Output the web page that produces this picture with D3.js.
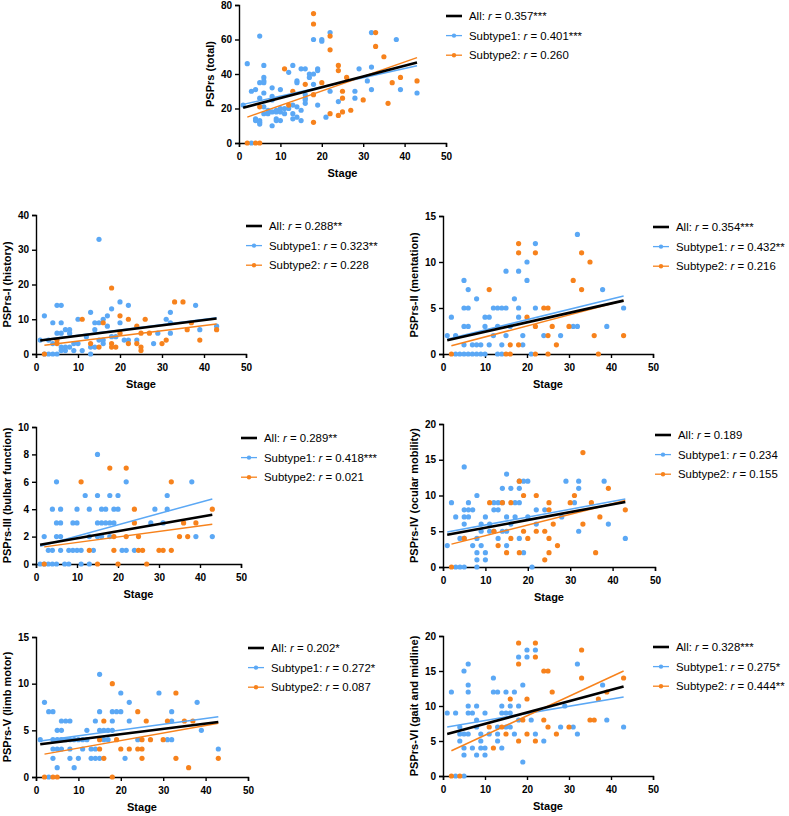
<!DOCTYPE html>
<html>
<head>
<meta charset="utf-8">
<script src="https://cdn.jsdelivr.net/npm/d3@7"></script>
<style>
  body { margin: 0; background: #fff; }
  svg { display: block; font-family: 'Liberation Sans', Arial, sans-serif; }
</style>
</head>
<body>
<div id="chart"></div>
<script>
// Axis / label data
var stageTicks = [0, 10, 20, 30, 40, 50]
var scoreNames = ['PSPrs (total)', 'PSPrs-I (history)', 'PSPrs-II (mentation)', 'PSPrs-III (bulbar function)',
                  'PSPrs-IV (ocular mobility)', 'PSPrs-V (limb motor)', 'PSPrs-VI (gait and midline)']
var scoreMax = [80, 40, 15, 10, 20, 15, 20]
var scoreStep = [20, 10, 5, 2, 5, 5, 5]

// correlation labels
var rAll = ['0.357***', '0.288**', '0.354***', '0.289**', '0.189', '0.202*', '0.328***']
var rSub1 = ['0.401***', '0.323**', '0.432**', '0.418***', '0.234', '0.272*', '0.275*']
var rSub2 = ['0.260', '0.228', '0.216', '0.021', '0.155', '0.087', '0.444**']

// [stage, score] per patient
var totalSub1 = [[1,22],[2,46],[3,30],[4,31],[4,14],[4,13],[5,13],[5,12],[5,11],[5,62],[5,35],[5,26],[6,45],[6,38],
  [6,36],[6,35],[6,29],[6,21],[6,17],[7,17],[7,19],[8,32],[8,27],[8,25],[8,10],[8,18],[9,18],[10,18],[9,19],[9,14],
  [9,13],[10,13],[10,31],[10,20],[11,20],[11,17],[12,41],[12,20],[13,45],[13,22],[13,17],[13,14],[14,36],[14,35],
  [14,21],[14,15],[15,43],[16,43],[15,19],[15,13],[16,28],[16,26],[16,23],[16,25],[17,40],[17,38],[18,40],[18,60],
  [18,34],[19,43],[19,42],[19,22],[20,60],[20,59],[21,15],[22,64],[22,30],[24,24],[29,43],[28,30],[28,26],[31,36],
  [32,64],[32,44],[32,31],[38,60],[39,31],[43,29],[3,0]]
var totalSub2 = [[18,75],[18,69],[22,62],[22,54],[33,64],[33,56],[35,50],[24,45],[24,42],[11,43],[26,38],[20,35],
  [16,34],[37,35],[39,38],[43,36],[25,30],[25,26],[30,25],[36,23],[27,19],[25,18],[22,17],[24,16],[18,12],[18,28],
  [5,21],[12,22],[13,30],[2,0],[4,0],[5,0]]

var historySub1 = [[1,4],[2,11],[3,4],[4,9],[5,14],[6,14],[5,6],[6,6],[6,9],[7,7],[8,6],[8,7],[7,2],[8,2],[9,3],
  [10,3],[10,10],[11,1],[12,5],[13,12],[13,2],[14,2],[14,7],[14,9],[15,9],[15,33],[15,4],[16,4],[16,3],[16,10],
  [17,11],[17,8],[18,13],[18,5],[19,5],[20,15],[20,9],[21,4],[22,4],[22,14],[24,4],[28,3],[29,6],[31,10],[32,12],
  [32,9],[32,6],[38,14],[39,7],[43,8],[2,0],[3,0],[4,0],[5,0],[13,0],[4,3],[6,2],[7,1],[9,1],[6,1]]
var historySub2 = [[2,0],[11,10],[13,3],[15,2],[16,9],[18,19],[18,3],[18,2],[19,2],[20,11],[20,6],[22,10],[22,3],
  [24,8],[24,3],[25,6],[25,2],[25,1],[26,10],[27,6],[30,3],[31,4],[33,15],[35,15],[36,7],[37,9],[39,4],[43,7],
  [5,3],[5,4]]

var mentationSub1 = [[1,2],[2,4],[3,2],[5,8],[6,7],[5,5],[6,5],[5,3],[6,3],[5,1],[7,1],[8,6],[8,1],[9,1],[10,4],
  [11,4],[10,3],[11,1],[12,5],[13,5],[14,5],[15,5],[12,2],[13,3],[14,1],[15,9],[15,2],[16,3],[17,6],[18,9],[18,4],
  [18,5],[19,2],[19,1],[20,10],[20,8],[22,12],[22,5],[24,2],[28,2],[32,13],[31,3],[32,3],[38,7],[39,3],[43,5],
  [3,0],[4,0],[5,0],[6,0],[7,0],[8,0],[9,0],[10,0],[13,0],[14,0],[21,0]]
var mentationSub2 = [[2,0],[11,7],[15,0],[16,0],[16,1],[18,12],[18,11],[18,1],[20,4],[22,11],[22,3],[22,0],[24,5],
  [25,5],[25,2],[25,0],[26,3],[27,1],[30,3],[31,8],[33,11],[33,7],[35,10],[36,2],[37,0],[43,2]]

var bulbarSub1 = [[1,0],[2,2],[3,1],[4,1],[4,4],[5,6],[5,3],[6,3],[5,2],[6,2],[6,4],[6,1],[8,1],[9,1],[10,1],
  [11,1],[9,3],[10,3],[10,4],[12,5],[13,4],[14,1],[15,8],[15,5],[15,3],[16,3],[17,3],[18,3],[19,3],[15,2],[16,2],
  [16,4],[17,4],[18,5],[19,4],[20,4],[20,5],[21,1],[22,1],[22,6],[24,1],[28,3],[29,4],[31,3],[32,4],[32,5],[38,6],
  [39,2],[43,2],[2,0],[3,0],[4,0],[5,0],[7,0],[8,0],[11,0],[13,0],[13,2],[18,2]]
var bulbarSub2 = [[2,0],[11,6],[13,1],[15,0],[18,7],[19,2],[19,1],[20,0],[22,7],[22,2],[24,4],[24,3],[25,2],[25,1],
  [26,1],[27,0],[30,1],[31,1],[33,6],[33,1],[35,2],[36,3],[37,2],[39,3],[43,4]]

var ocularSub1 = [[1,3],[2,9],[3,7],[4,4],[5,4],[5,14],[5,8],[6,8],[7,8],[5,7],[6,7],[5,6],[6,9],[7,3],[8,10],
  [8,4],[8,2],[8,1],[9,6],[9,5],[9,3],[10,7],[10,2],[10,1],[11,6],[11,5],[12,9],[13,9],[12,8],[13,8],[12,5],[13,4],
  [14,5],[14,11],[14,9],[15,13],[15,7],[15,5],[15,3],[16,11],[16,6],[17,9],[17,7],[18,12],[18,11],[18,9],[18,4],
  [19,12],[20,12],[19,2],[20,7],[21,0],[22,8],[22,6],[24,8],[28,7],[29,12],[31,9],[32,12],[32,11],[32,5],[38,12],
  [39,6],[43,4],[3,0],[4,0],[5,0],[8,0]]
var ocularSub2 = [[2,0],[5,4],[11,9],[12,5],[13,3],[14,9],[15,2],[16,9],[16,4],[18,12],[18,2],[19,10],[19,5],
  [20,4],[22,10],[22,5],[24,5],[24,1],[25,9],[25,8],[25,4],[25,2],[26,6],[27,3],[30,9],[31,10],[33,16],[33,6],
  [35,9],[37,7],[36,2],[39,11],[43,8]]

var limbSub1 = [[1,4],[2,8],[3,7],[4,7],[4,4],[4,3],[4,2],[5,5],[6,5],[5,4],[6,4],[5,3],[6,3],[5,1],[6,6],[7,6],
  [8,6],[7,4],[8,4],[9,4],[10,4],[11,4],[12,4],[8,3],[8,2],[9,1],[10,2],[11,3],[12,5],[13,2],[14,2],[15,2],[13,3],
  [14,3],[14,6],[15,11],[15,7],[15,5],[16,5],[17,5],[18,5],[16,4],[17,4],[18,7],[19,7],[20,7],[18,6],[20,9],[21,2],
  [22,8],[22,6],[24,4],[29,9],[31,4],[32,4],[32,7],[32,6],[38,8],[39,5],[43,3],[3,0]]
var limbSub2 = [[2,0],[4,0],[5,0],[15,3],[15,4],[16,6],[16,2],[18,10],[18,0],[19,4],[20,3],[22,3],[24,7],[24,3],
  [25,4],[25,3],[25,2],[26,6],[27,4],[30,4],[31,6],[33,9],[33,2],[35,6],[36,1],[37,6],[43,2]]

var gaitSub1 = [[1,9],[2,12],[3,9],[4,7],[4,5],[4,6],[5,6],[5,15],[5,4],[5,3],[6,16],[6,13],[6,12],[6,10],[6,9],
  [6,6],[7,9],[7,4],[8,10],[8,8],[8,7],[8,3],[9,6],[9,5],[9,4],[10,4],[10,9],[10,3],[11,6],[12,14],[12,12],[13,12],
  [13,7],[13,6],[13,5],[14,10],[14,9],[14,4],[15,12],[15,9],[15,7],[16,9],[16,10],[16,7],[17,12],[17,6],[18,17],
  [18,10],[18,8],[19,13],[19,2],[20,18],[20,17],[21,8],[22,18],[22,6],[24,5],[28,7],[29,10],[31,7],[32,16],[32,6],
  [38,13],[39,8],[43,7],[3,0],[5,0]]
var gaitSub2 = [[2,0],[4,0],[11,7],[12,4],[14,7],[15,6],[16,11],[18,19],[18,16],[18,5],[19,8],[20,11],[20,6],
  [22,19],[22,17],[22,5],[24,15],[25,15],[24,8],[25,7],[26,12],[27,6],[30,7],[33,18],[33,14],[35,8],[36,8],[37,11],
  [39,12],[43,14]]

// regression lines: [stage1, score1, stage2, score2]
var fitAll = [[1,20.5,43,46.6],[1,3.9,43,10.2],[1,1.5,43,5.8],[1,1.4,43,3.6],[1,4.5,43,9.1],[1,3.5,43,5.9],[1,6,43,12.8]]
var fitSub1 = [[1,22.4,43,44.8],[1,4.0,43,10.4],[1,1.6,43,6.3],[1,1.3,43,4.75],[1,4.9,43,9.5],[1,3.85,43,6.45],[1,7,43,11.3]]
var fitSub2 = [[2,15,43,49.5],[2,2.5,43,8.6],[2,0.9,43,5.8],[2,1.25,43,2.9],[2,3.2,43,9.3],[2,2.45,43,5.75],[2,3.6,43,15]]

var sub1Points = [totalSub1, historySub1, mentationSub1, bulbarSub1, ocularSub1, limbSub1, gaitSub1]
var sub2Points = [totalSub2, historySub2, mentationSub2, bulbarSub2, ocularSub2, limbSub2, gaitSub2]

var colors = { all: '#000000', sub1: '#5ba8f5', sub2: '#f7821c' }

// plot boxes (px)
var boxes = [
  { left: 239, right: 446, top: 5, bottom: 143 },
  { left: 36, right: 246, top: 215, bottom: 354 },
  { left: 443, right: 653, top: 216, bottom: 354 },
  { left: 36, right: 241, top: 427, bottom: 564 },
  { left: 443, right: 655, top: 424, bottom: 567 },
  { left: 36, right: 248, top: 637, bottom: 777 },
  { left: 443, right: 653, top: 636, bottom: 776 }
]

var svg = d3.select('#chart')
  .append('svg')
  .attr('width', 789)
  .attr('height', 816)

boxes.forEach(function (box, i) {
  var x = d3.scaleLinear().domain([0, 50]).range([box.left, box.right])
  var y = d3.scaleLinear().domain([0, scoreMax[i]]).range([box.bottom, box.top])
  var g = svg.append('g').attr('class', 'panel')

  // axes
  var xAxis = g.append('g')
    .attr('transform', 'translate(0,' + box.bottom + ')')
    .call(d3.axisBottom(x).tickValues(stageTicks).tickSize(4).tickPadding(6))
  var yAxis = g.append('g')
    .attr('transform', 'translate(' + box.left + ',0)')
    .call(d3.axisLeft(y).tickValues(d3.range(0, scoreMax[i] + 0.01, scoreStep[i])).tickSize(4).tickPadding(3))
  ;[xAxis, yAxis].forEach(function (a) {
    a.selectAll('path, line').attr('stroke', '#000').attr('stroke-width', 1.4)
    a.selectAll('text').attr('fill', '#000').style('font-size', '10px').style('font-weight', 'bold')
  })

  // points
  g.append('g').selectAll('circle.s1')
    .data(sub1Points[i]).enter()
    .append('circle')
    .attr('cx', function (d) { return x(d[0]) })
    .attr('cy', function (d) { return y(d[1]) })
    .attr('r', 2.6)
    .attr('fill', colors.sub1)
  g.append('g').selectAll('circle.s2')
    .data(sub2Points[i]).enter()
    .append('circle')
    .attr('cx', function (d) { return x(d[0]) })
    .attr('cy', function (d) { return y(d[1]) })
    .attr('r', 2.6)
    .attr('fill', colors.sub2)

  // fit lines
  var fits = [[fitSub1[i], colors.sub1, 1.5], [fitSub2[i], colors.sub2, 1.5], [fitAll[i], colors.all, 2.6]]
  fits.forEach(function (f) {
    g.append('line')
      .attr('x1', x(f[0][0])).attr('y1', y(f[0][1]))
      .attr('x2', x(f[0][2])).attr('y2', y(f[0][3]))
      .attr('stroke', f[1])
      .attr('stroke-width', f[2])
  })

  // axis titles
  g.append('text')
    .attr('x', (box.left + box.right) / 2)
    .attr('y', box.bottom + 34)
    .attr('text-anchor', 'middle')
    .style('font-size', '11px').style('font-weight', 'bold')
    .text('Stage')
  g.append('text')
    .attr('transform', 'translate(' + (box.left - 29) + ',' + ((box.top + box.bottom) / 2) + ') rotate(-90)')
    .attr('text-anchor', 'middle')
    .attr('dy', '0.35em')
    .style('font-size', '11px').style('font-weight', 'bold')
    .text(scoreNames[i])

  // legend
  var rows = [['All', rAll[i], colors.all], ['Subtype1', rSub1[i], colors.sub1], ['Subtype2', rSub2[i], colors.sub2]]
  var legend = g.append('g')
    .attr('transform', 'translate(' + box.right + ',' + (box.top + 11) + ')')
  rows.forEach(function (row, k) {
    var item = legend.append('g').attr('transform', 'translate(0,' + (k * 19.6) + ')')
    item.append('line')
      .attr('x1', 0).attr('x2', 16)
      .attr('stroke', row[2])
      .attr('stroke-width', k === 0 ? 2.6 : 1.3)
    if (k > 0) {
      item.append('circle').attr('cx', 8).attr('r', 2.2).attr('fill', row[2])
    }
    var t = item.append('text')
      .attr('x', 23)
      .attr('dy', '0.35em')
      .style('font-size', '11.4px')
    t.append('tspan').text(row[0] + ': ')
    t.append('tspan').style('font-style', 'italic').text('r')
    t.append('tspan').text(' = ' + row[1])
  })
})
</script>
</body>
</html>
